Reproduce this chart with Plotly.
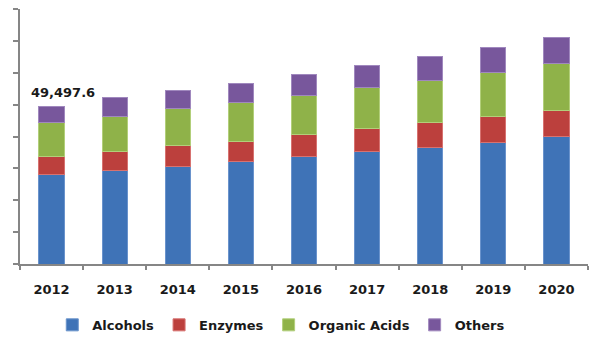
import plotly.graph_objects as go

years = ["2012", "2013", "2014", "2015", "2016", "2017", "2018", "2019", "2020"]
alcohols = [28125, 29375, 30625, 32290, 33750, 35420, 36670, 38125, 40000]
enzymes = [5625, 5940, 6665, 6250, 6980, 7180, 7810, 8225, 8230]
organic_acids = [10625, 11040, 11360, 11980, 12290, 12820, 13120, 13860, 14790]
others = [5122.6, 5740, 5725, 6250, 6560, 6770, 7400, 7810, 7920]

series = [
    ("Alcohols", alcohols, "#3F73B7", "#6A93CC"),
    ("Enzymes", enzymes, "#BC403D", "#D77270"),
    ("Organic Acids", organic_acids, "#8FB249", "#B2CF7A"),
    ("Others", others, "#78579C", "#A088BE"),
]

fig = go.Figure()
for name, vals, col, edge in series:
    fig.add_trace(go.Bar(
        x=years, y=vals, name=name,
        marker=dict(color=col, line=dict(color=edge, width=1)),
    ))

total_2012 = alcohols[0] + enzymes[0] + organic_acids[0] + others[0]
fig.add_annotation(
    x=0, y=total_2012, text=f"{total_2012:,.1f}",
    showarrow=False, xanchor="center", yanchor="middle",
    xshift=11, yshift=13.5,
    font=dict(family="DejaVu Sans", size=13, color="#1a1a1a", weight="bold"),
)

fig.update_layout(
    barmode="stack",
    bargap=0.6,
    width=600, height=348,
    margin=dict(l=20, r=12, t=9, b=83),
    paper_bgcolor="white", plot_bgcolor="white",
    font=dict(family="DejaVu Sans", size=13, color="#1a1a1a", weight="bold"),
    legend=dict(
        orientation="h", x=0.46, xanchor="center", y=-0.234, yanchor="middle",
        font=dict(family="DejaVu Sans", size=13, color="#1a1a1a", weight="bold"),
        traceorder="normal",
    ),
    xaxis=dict(
        type="category", range=[-0.5, 8.5], showline=True, linecolor="#868686", linewidth=2,
        ticks="outside", tickson="boundaries", ticklen=4, tickcolor="#868686",
        tickwidth=1.5, showgrid=False, zeroline=False, tickangle=0,
        ticklabelstandoff=12,
        tickfont=dict(family="DejaVu Sans", size=13, color="#1a1a1a", weight="bold"),
    ),
    yaxis=dict(
        range=[0, 80000], dtick=10000, showticklabels=False,
        showline=True, linecolor="#868686", linewidth=2,
        ticks="outside", ticklen=5, tickcolor="#868686", tickwidth=1.5,
        showgrid=False, zeroline=False,
    ),
)

fig.write_html("out.html")
